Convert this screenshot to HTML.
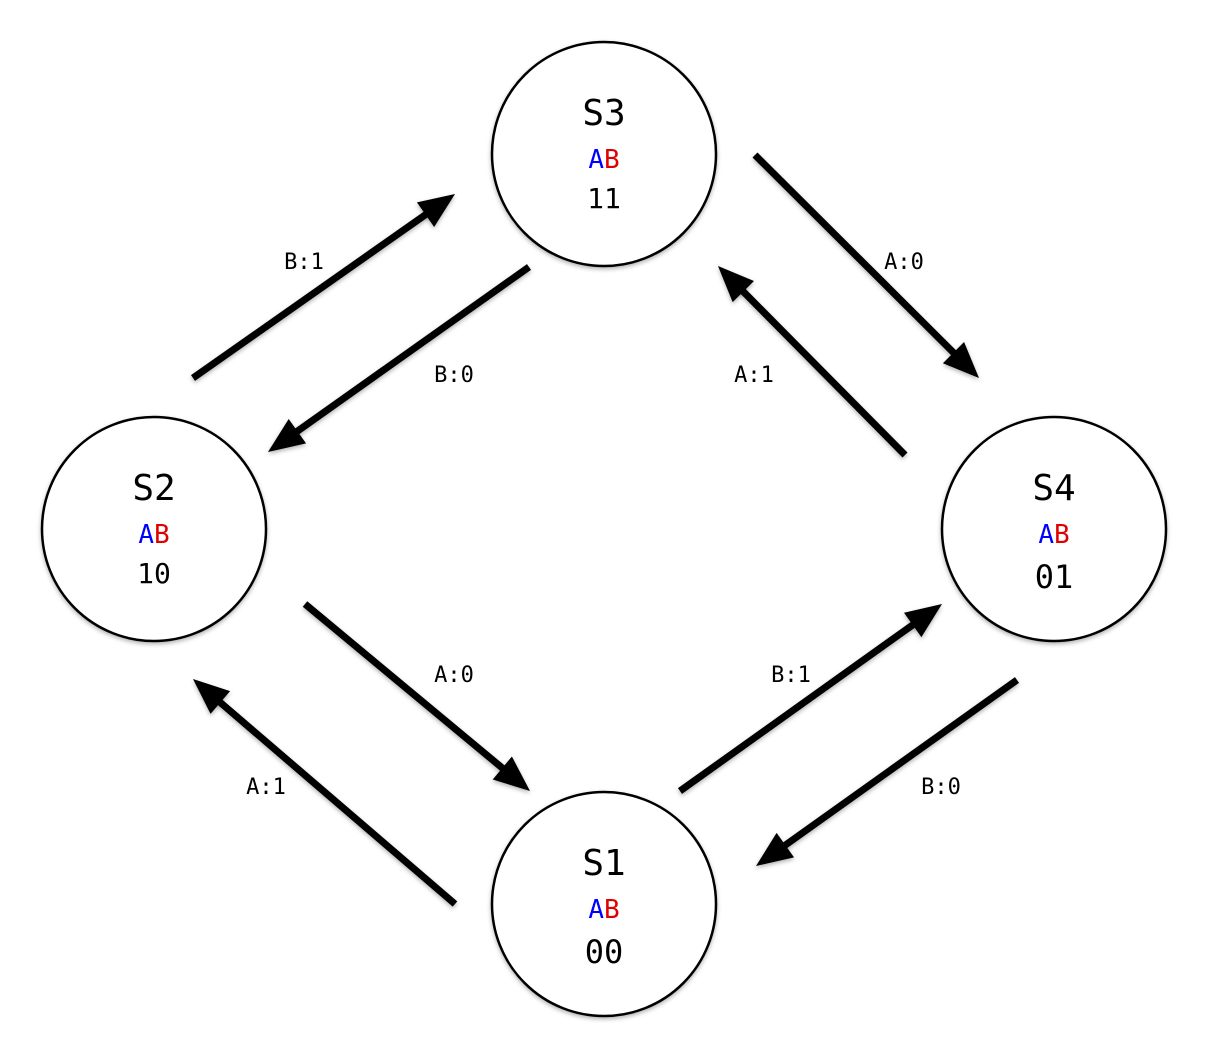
<!DOCTYPE html>
<html><head><meta charset="utf-8"><style>
html,body{margin:0;padding:0;background:#fff;width:1208px;height:1038px;overflow:hidden}
svg text{font-family:"DejaVu Sans Mono","Liberation Mono",monospace;text-anchor:middle}
</style></head><body>
<svg id="c" width="1208" height="1038">
<defs><filter id="sh" x="-20%" y="-20%" width="140%" height="140%"><feDropShadow dx="0" dy="2" stdDeviation="2" flood-opacity="0.3"/></filter></defs>
</svg>
<script>
const stateNames=["S1","S2","S3","S4"];
const stateCodes=["00","10","11","01"];
const stateX=[604,154,604,1054];
const stateY=[904,529,154,529];
const codeSize=[32,28,28,32];
const edgeLabels=["B:1","B:0","A:0","A:1","A:0","A:1","B:1","B:0"];
const edgeFrom=[[193,378],[529,267],[755,155],[905,455],[305,604],[455,904],[680,791],[1017,680]];
const edgeTo=[[455,194],[268,452],[979,378],[718,266],[530,791],[193,679],[942,604],[756,866]];
const labelPos=[[304,261],[454,374],[904,261],[754,374],[454,674],[266,786],[791,674],[941,786]];
const svg=document.getElementById('c');
const NS='http://www.w3.org/2000/svg';
function mk(t,a){const e=document.createElementNS(NS,t);for(const k in a)e.setAttribute(k,a[k]);svg.appendChild(e);return e;}
for(let i=0;i<edgeLabels.length;i++){
  const [x1,y1]=edgeFrom[i],[x2,y2]=edgeTo[i];
  const dx=x2-x1,dy=y2-y1,L=Math.hypot(dx,dy),ux=dx/L,uy=dy/L,hl=36,hw=15;
  const bx=x2-ux*hl,by=y2-uy*hl;
  const ln=mk('line',{x1:x1,y1:y1,x2:bx+ux*4,y2:by+uy*4,stroke:'#000','stroke-width':7,filter:'url(#sh)'});
  
  
  const hd=mk('polygon',{points:`${x2},${y2} ${bx-uy*hw},${by+ux*hw} ${bx+uy*hw},${by-ux*hw}`,fill:'#000',filter:'url(#sh)'});
  
  
  const t=mk('text',{x:labelPos[i][0],y:labelPos[i][1]+8,'font-size':22,fill:'#000'});
  t.textContent=edgeLabels[i];
  
  
}
for(let i=0;i<stateNames.length;i++){
  const x=stateX[i],y=stateY[i];
  const c=mk('circle',{cx:x,cy:y,r:112,fill:'#fff',stroke:'#000','stroke-width':2.5,filter:'url(#sh)'});
  
  
  const n=mk('text',{x:x,y:y-29,'font-size':36,fill:'#000'});
  n.textContent=stateNames[i];
  
  
  const ab=mk('text',{x:x,y:y+14,'font-size':26});
  ab.innerHTML='<tspan fill="#0000ff">A</tspan><tspan fill="#e00000">B</tspan>';
  
  
  const cd=mk('text',{x:x,y:y+(codeSize[i]>30?59:54),'font-size':codeSize[i],fill:'#000'});
  cd.textContent=stateCodes[i];
  
  
}
</script>
</body></html>
